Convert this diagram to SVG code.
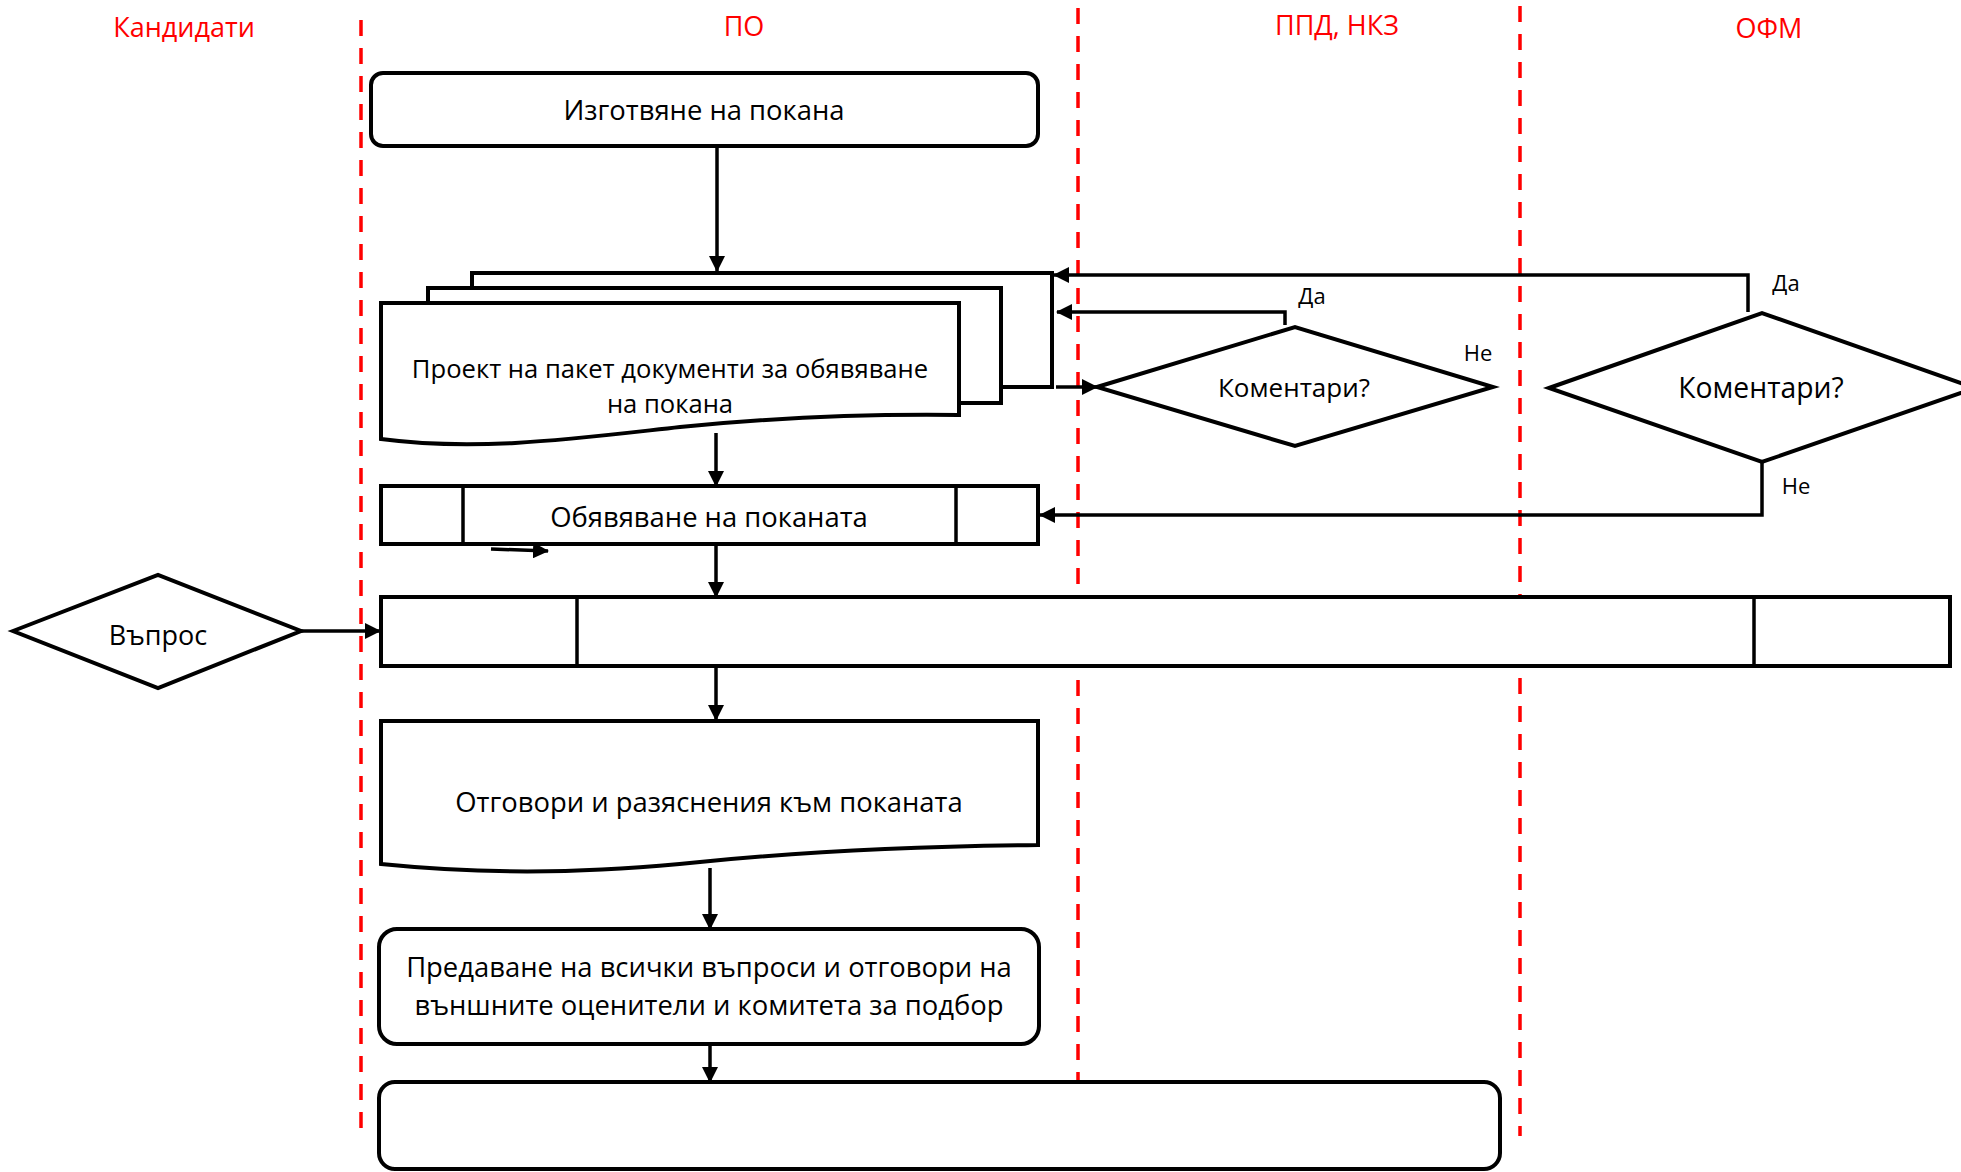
<svg xmlns="http://www.w3.org/2000/svg" width="1961" height="1172" viewBox="0 0 1961 1172">
  <style>
    .lane { fill: none; stroke: #ff0000; stroke-width: 3.5; stroke-dasharray: 16 12; }
    .lanelabel { font-family: "Open Sans", "Noto Sans", sans-serif; font-size: 27px; fill: #ff0000; text-anchor: middle; }
    .shape { fill: #ffffff; stroke: #000000; stroke-width: 4; stroke-linejoin: miter; }
    .divider { fill: none; stroke: #000000; stroke-width: 3.5; }
    .label { font-family: "Open Sans", "Noto Sans", sans-serif; font-size: 27.4px; fill: #000000; text-anchor: middle; }
    .small { font-family: "Open Sans", "Noto Sans", sans-serif; font-size: 22px; fill: #000000; text-anchor: middle; }
    .conn { fill: none; stroke: #000000; stroke-width: 3.5; }
  </style>
  <defs>
    <marker id="arrow" viewBox="0 0 16 16" refX="15" refY="8" markerWidth="16" markerHeight="16" markerUnits="userSpaceOnUse" orient="auto">
      <path d="M0,0 L16,8 L0,16 z" fill="#000000"/>
    </marker>
  </defs>

  <rect x="0" y="0" width="1961" height="1172" fill="#ffffff"/>

  <!-- swimlane separators and titles -->
  <g id="lanes">
    <line class="lane" x1="361" y1="20" x2="361" y2="1130"/>
    <line class="lane" x1="1078" y1="8" x2="1078" y2="1136"/>
    <line class="lane" x1="1520" y1="6" x2="1520" y2="1136"/>
    <text class="lanelabel" x="184" y="37">Кандидати</text>
    <text class="lanelabel" x="744" y="36">ПО</text>
    <text class="lanelabel" x="1337" y="35">ППД, НКЗ</text>
    <text class="lanelabel" x="1769" y="38">ОФМ</text>
  </g>

  <!-- connectors -->
  <g id="connectors">
    <line class="conn" x1="717" y1="146" x2="717" y2="271" marker-end="url(#arrow)"/>
    <line class="conn" x1="716" y1="433" x2="716" y2="486" marker-end="url(#arrow)"/>
    <line class="conn" x1="716" y1="544" x2="716" y2="597" marker-end="url(#arrow)"/>
    <line class="conn" x1="716" y1="666" x2="716" y2="720" marker-end="url(#arrow)"/>
    <line class="conn" x1="710" y1="868" x2="710" y2="929" marker-end="url(#arrow)"/>
    <line class="conn" x1="710" y1="1044" x2="710" y2="1082" marker-end="url(#arrow)"/>
    <line class="conn" x1="1056" y1="387" x2="1097" y2="387" marker-end="url(#arrow)"/>
    <polyline class="conn" points="1285,325 1285,312 1057,312" marker-end="url(#arrow)"/>
    <polyline class="conn" points="1748,312 1748,275 1054,275" marker-end="url(#arrow)"/>
    <polyline class="conn" points="1762,462 1762,515 1040,515" marker-end="url(#arrow)"/>
    <line class="conn" x1="301" y1="631" x2="380" y2="631" marker-end="url(#arrow)"/>
    <line class="conn" x1="491" y1="549" x2="548" y2="551" marker-end="url(#arrow)"/>
  </g>

  <!-- prepare invitation -->
  <g id="prepare">
    <rect class="shape" x="371" y="73" width="667" height="73" rx="12"/>
    <text class="label" x="704" y="120">Изготвяне на покана</text>
  </g>

  <!-- draft document package (stacked documents) -->
  <g id="draft-package">
    <rect class="shape" x="472" y="273" width="580" height="114"/>
    <rect class="shape" x="428" y="288" width="573" height="115"/>
    <path class="shape" d="M381,303 H959 V415 C880,414 790,416 680,427 C580,438 480,452 381,439 Z"/>
    <text class="label" x="670" y="378" style="font-size:25.6px">Проект на пакет документи за обявяване</text>
    <text class="label" x="670" y="413" style="font-size:25.6px">на покана</text>
  </g>

  <!-- publish invitation -->
  <g id="publish">
    <rect class="shape" x="381" y="486" width="657" height="58"/>
    <line class="divider" x1="463" y1="486" x2="463" y2="544"/>
    <line class="divider" x1="956" y1="486" x2="956" y2="544"/>
    <text class="label" x="709" y="527">Обявяване на поканата</text>
  </g>

  <!-- wide process bar -->
  <g id="process-bar">
    <rect class="shape" x="381" y="597" width="1569" height="69"/>
    <line class="divider" x1="577" y1="597" x2="577" y2="666"/>
    <line class="divider" x1="1754" y1="597" x2="1754" y2="666"/>
  </g>

  <!-- question decision -->
  <g id="question">
    <polygon class="shape" points="13,631 158,575 301,631 158,688"/>
    <text class="label" x="158" y="645" style="font-size:27px">Въпрос</text>
  </g>

  <!-- comments decision (ППД, НКЗ) -->
  <g id="comments-ppd">
    <polygon class="shape" points="1097,387 1295,327 1493,387 1295,446"/>
    <text class="label" x="1294" y="397" style="font-size:26px">Коментари?</text>
    <text class="small" x="1312" y="304">Да</text>
    <text class="small" x="1478" y="361">Не</text>
  </g>

  <!-- comments decision (ОФМ) -->
  <g id="comments-ofm">
    <polygon class="shape" points="1549,388 1762,313 1975,388 1762,462"/>
    <text class="label" x="1761" y="398" style="font-size:28.3px">Коментари?</text>
    <text class="small" x="1786" y="291">Да</text>
    <text class="small" x="1796" y="494">Не</text>
  </g>

  <!-- answers and clarifications -->
  <g id="answers">
    <path class="shape" d="M381,721 H1038 V845 C940,846 820,850 700,862 C600,872 500,876 381,864 Z"/>
    <text class="label" x="709" y="812">Отговори и разяснения към поканата</text>
  </g>

  <!-- hand over questions and answers -->
  <g id="handover">
    <rect class="shape" x="379" y="929" width="660" height="115" rx="18"/>
    <text class="label" x="709" y="977">Предаване на всички въпроси и отговори на</text>
    <text class="label" x="709" y="1015">външните оценители и комитета за подбор</text>
  </g>

  <!-- final step -->
  <g id="final-step">
    <rect class="shape" x="379" y="1082" width="1121" height="87" rx="16"/>
  </g>
</svg>
